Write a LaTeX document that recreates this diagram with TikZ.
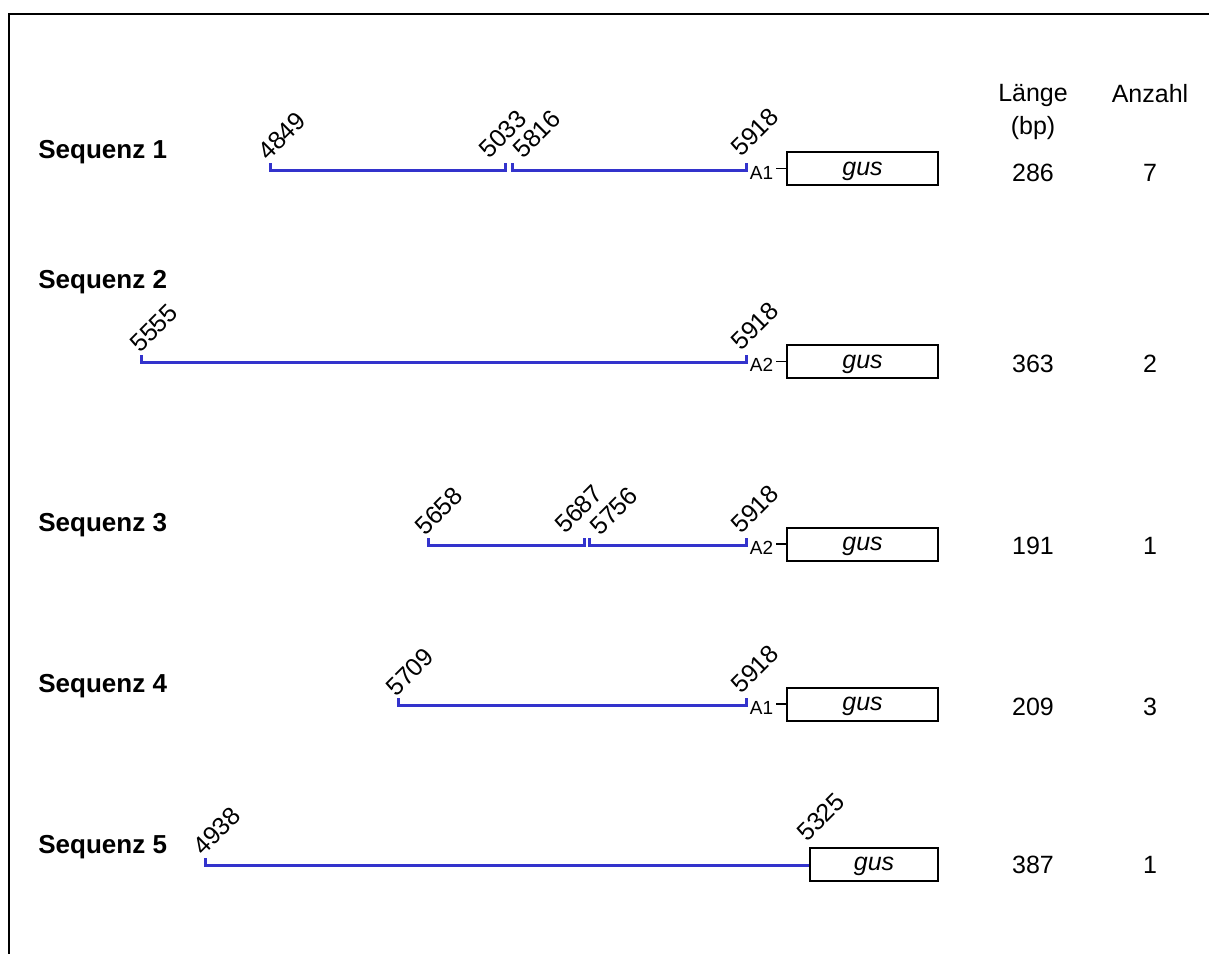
\documentclass[tikz,border=0pt]{standalone}
\usepackage{fontspec}
\setmainfont{Liberation Sans}
\usetikzlibrary{positioning}
\definecolor{seqblau}{RGB}{51,51,204}

\begin{document}
\begin{tikzpicture}[
		x=0.5pt, y=-0.5pt,
		rahmen/.style={line width=1pt, black},
		strang/.style={line width=1.5pt, line cap=butt, seqblau},
		gusbox/.style={draw=black, line width=1pt, inner sep=0pt,
			minimum height=16.5pt, minimum width=75.5pt,
			text height=6.5pt, text depth=0pt,
			font=\fontsize{12.5}{14}\selectfont\itshape},
		seqname/.style={anchor=base west, inner sep=0pt,
			font=\fontsize{13}{15}\selectfont\bfseries},
		posnr/.style={anchor=base west, rotate=45, inner sep=0pt,
			font=\fontsize{12.5}{14}\selectfont},
		akz/.style={inner sep=0pt, font=\fontsize{9.5}{10}\selectfont},
		wert/.style={inner sep=0pt, font=\fontsize{12.5}{16.5}\selectfont},
		verb/.style={line width=0.8pt, black}]
	
	\useasboundingbox (0,0) rectangle (1209,954);
	
	\def\tick{3.5pt}                   %% hoehe der endstriche
	\def\dash{5pt}                     %% strich vor der gus-box
	
	%% --- rahmen (oben und links) ---
	\draw[rahmen] (1209,14) -- (9,14) -- (9,954);
	
	%% --- kopf der tabelle ---
	\node[wert, align=center] (kopfL) at (1033,112) {Länge\\(bp)};
	\node[wert] (kopfA) at (1150,94) {Anzahl};
	
	%% ===== Sequenz 1 =====
	\node[seqname] (seq1) at (38,158) {Sequenz 1};
	\coordinate (s1a) at (270,170);
	\coordinate (s1b) at (505,170);
	\coordinate (s1c) at (512,170);
	\coordinate (s1d) at (746,170);
	\draw[strang] ([yshift=\tick]s1a) -- (s1a) -- (s1b) -- ([yshift=\tick]s1b);
	\draw[strang] ([yshift=\tick]s1c) -- (s1c) -- (s1d) -- ([yshift=\tick]s1d);
	\node[posnr] (p4849) at ([xshift=-1pt,yshift=4pt]s1a) {4849};
	\node[posnr] (p5033) at ([xshift=-8pt,yshift=5pt]s1b) {5033};
	\node[posnr] (p5816) at ([xshift=5.5pt,yshift=5pt]s1c) {5816};
	\node[posnr] (p5918a) at ([xshift=-2.5pt,yshift=6pt]s1d) {5918};
	\node[gusbox] (gus1) at (862.5,168.5) {gus};
	\node[akz] (a1) at (761.5,172.5) {A1};
	\draw[verb] ([xshift=-\dash]gus1.west) -- (gus1.west);
	\node[wert] (len1) at (1033,173) {286};
	\node[wert] (anz1) at (1150,173) {7};
	
	%% ===== Sequenz 2 =====
	\node[seqname] (seq2) at (38,288) {Sequenz 2};
	\coordinate (s2a) at (141,362);
	\coordinate (s2b) at (746,362);
	\draw[strang] ([yshift=\tick]s2a) -- (s2a) -- (s2b) -- ([yshift=\tick]s2b);
	\node[posnr] (p5555) at ([xshift=-0.5pt,yshift=4pt]s2a) {5555};
	\node[posnr] (p5918b) at ([xshift=-2.5pt,yshift=5pt]s2b) {5918};
	\node[gusbox] (gus2) at (862.5,361.5) {gus};
	\node[akz] (a2) at (761.5,365) {A2};
	\draw[verb] ([xshift=-\dash]gus2.west) -- (gus2.west);
	\node[wert] (len2) at (1033,364) {363};
	\node[wert] (anz2) at (1150,364) {2};
	
	%% ===== Sequenz 3 =====
	\node[seqname] (seq3) at (38,531) {Sequenz 3};
	\coordinate (s3a) at (428,545);
	\coordinate (s3b) at (584,545);
	\coordinate (s3c) at (589,545);
	\coordinate (s3d) at (746,545);
	\draw[strang] ([yshift=\tick]s3a) -- (s3a) -- (s3b) -- ([yshift=\tick]s3b);
	\draw[strang] ([yshift=\tick]s3c) -- (s3c) -- (s3d) -- ([yshift=\tick]s3d);
	\node[posnr] (p5658) at ([xshift=-1.5pt,yshift=4pt]s3a) {5658};
	\node[posnr] (p5687) at ([xshift=-9.5pt,yshift=5pt]s3b) {5687};
	\node[posnr] (p5756) at ([xshift=5.5pt,yshift=4pt]s3c) {5756};
	\node[posnr] (p5918c) at ([xshift=-2.5pt,yshift=5pt]s3d) {5918};
	\node[gusbox] (gus3) at (862.5,544) {gus};
	\node[akz] (a3) at (761.5,548) {A2};
	\draw[verb] ([xshift=-\dash]gus3.west) -- (gus3.west);
	\node[wert] (len3) at (1033,546) {191};
	\node[wert] (anz3) at (1150,546) {1};
	
	%% ===== Sequenz 4 =====
	\node[seqname] (seq4) at (38,692) {Sequenz 4};
	\coordinate (s4a) at (398,705);
	\coordinate (s4b) at (746,705);
	\draw[strang] ([yshift=\tick]s4a) -- (s4a) -- (s4b) -- ([yshift=\tick]s4b);
	\node[posnr] (p5709) at ([xshift=-1pt,yshift=3.5pt]s4a) {5709};
	\node[posnr] (p5918d) at ([xshift=-2.5pt,yshift=5pt]s4b) {5918};
	\node[gusbox] (gus4) at (862.5,704) {gus};
	\node[akz] (a4) at (761.5,708) {A1};
	\draw[verb] ([xshift=-\dash]gus4.west) -- (gus4.west);
	\node[wert] (len4) at (1033,707) {209};
	\node[wert] (anz4) at (1150,707) {3};
	
	%% ===== Sequenz 5 =====
	\node[seqname] (seq5) at (38,853) {Sequenz 5};
	\node[gusbox, minimum width=64pt] (gus5) at (874,864) {gus};
	\coordinate (s5a) at (205,865);
	\coordinate (s5b) at (gus5.west |- s5a);
	\draw[strang] ([yshift=\tick]s5a) -- (s5a) -- (s5b);
	\node[posnr] (p4938) at ([xshift=-1pt,yshift=4pt]s5a) {4938};
	\node[posnr] (p5325) at ([xshift=-1pt,yshift=11pt]s5b) {5325};
	\node[wert] (len5) at (1033,865) {387};
	\node[wert] (anz5) at (1150,865) {1};
	
\end{tikzpicture}
\end{document}
